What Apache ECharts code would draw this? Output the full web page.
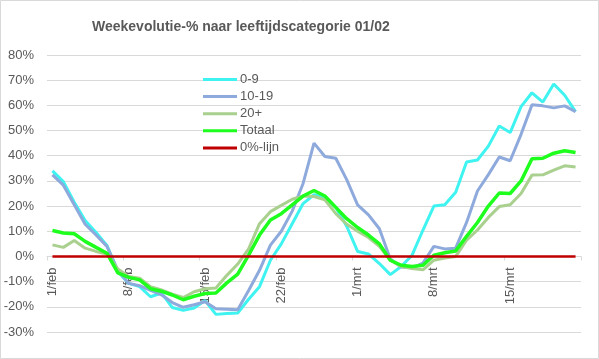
<!DOCTYPE html>
<html>
<head>
<meta charset="utf-8">
<script src="https://cdn.jsdelivr.net/npm/echarts@6/dist/echarts.min.js"></script>
<style>
html,body{margin:0;padding:0;background:#fff;}
#c{width:599px;height:359px;}
</style>
</head>
<body>
<div id="c"></div>
<script>
var categories = ['1/feb','2/feb','3/feb','4/feb','5/feb','6/feb','7/feb','8/feb','9/feb','10/feb','11/feb','12/feb','13/feb','14/feb','15/feb','16/feb','17/feb','18/feb','19/feb','20/feb','21/feb','22/feb','23/feb','24/feb','25/feb','26/feb','27/feb','28/feb','1/mrt','2/mrt','3/mrt','4/mrt','5/mrt','6/mrt','7/mrt','8/mrt','9/mrt','10/mrt','11/mrt','12/mrt','13/mrt','14/mrt','15/mrt','16/mrt','17/mrt','18/mrt','19/mrt','20/mrt','21/mrt'];

var age0_9 = [34, 29.7, 21.5, 14.3, 9.5, 4.4, -6, -10.7, -12, -16, -14.5, -20.3, -21.4, -20.5, -17.5, -23, -22.7, -22.5, -17, -12, -1.5, 5, 13, 21, 24.5, 23.5, 19.5, 12, 2, 1, -2.8, -7.2, -4, 0.5, 10.5, 20, 20.5, 25.5, 37.5, 38.3, 43.8, 51.8, 49.2, 59.5, 65, 61.3, 68.5, 64, 57.5];

var age10_19 = [32.4, 28.3, 20.5, 12.8, 8.5, 4, -5.5, -10.7, -11.6, -13.5, -15.2, -18.3, -20.2, -19.2, -18, -20.8, -21, -21.2, -13.5, -5.5, 4.5, 10, 18, 29, 45, 39.7, 39, 30.5, 20.5, 16.5, 11, -1, -4.2, -4.5, -2.6, 4, 3, 3.3, 13.5, 26, 32.5, 39.5, 38, 48.5, 60.2, 59.8, 59, 59.8, 57.5];

var age20plus = [4.6, 3.6, 6.3, 3.3, 2, 1, -5, -8, -8.6, -12, -13.3, -15, -16.3, -14, -12.8, -12.5, -7.5, -3, 3, 13, 17.8, 20.3, 22.7, 24, 23.8, 22.5, 17, 12.8, 10, 7.5, 4, -1.5, -4, -4.8, -5.3, -1.5, -0.6, 0, 6.5, 10.5, 15.5, 19.8, 20.5, 25, 32.3, 32.4, 34.3, 36, 35.5];

var totaal = [10.3, 9.3, 9.0, 6.0, 3.6, 1.3, -6.5, -8.3, -9.3, -12.8, -13.8, -15.3, -17.2, -15.8, -14.7, -14.5, -10.5, -7, 0.5, 8.5, 14.5, 17, 20.5, 24, 26.2, 24, 19.5, 15, 11.5, 8.5, 5, -1.5, -3.5, -4, -3.5, 0.5, 1.5, 2.2, 8, 13.5, 20, 25.2, 25, 30, 38.8, 39, 41, 42, 41.3];

var nulLijn = categories.map(function(){ return 0; });

var seriesNames = ['0-9', '10-19', '20+', 'Totaal', '0%-lijn'];
var seriesData = [age0_9, age10_19, age20plus, totaal, nulLijn];
var seriesColors = ['#3FF3F0', '#8EA9DB', '#A9D08E', '#1EFF1E', '#C00000'];
var seriesWidths = [3, 3, 3, 3.5, 2.5];

var yMin = -30, yMax = 80, yStep = 10;
var titleText = 'Weekevolutie-% naar leeftijdscategorie 01/02';

var gridTop = 55, gridBottom = 27;
var plotH = 359 - gridTop - gridBottom;
var zeroOffset = -plotH * (0 - yMin) / (yMax - yMin);

var FONT = '"Liberation Sans", Arial, sans-serif';
var chart = echarts.init(document.getElementById('c'), null, {renderer: 'canvas'});
chart.setOption({
  animation: false,
  backgroundColor: '#ffffff',
  title: {
    text: titleText,
    left: 87, top: 15,
    textStyle: {fontFamily: FONT, fontSize: 14, fontWeight: 'bold', color: '#595959'}
  },
  legend: {
    orient: 'vertical',
    left: 198, top: 68,
    icon: 'rect',
    itemWidth: 34, itemHeight: 3, itemGap: 4.1,
    data: seriesNames,
    textStyle: {fontFamily: FONT, fontSize: 13, color: '#595959', padding: [0,0,0,-2]}
  },
  grid: {left: 47, right: 18, top: gridTop, bottom: gridBottom, outerBoundsMode: 'none', containLabel: false},
  xAxis: {
    type: 'category',
    data: categories,
    boundaryGap: true,
    position: 'bottom',
    offset: zeroOffset,
    axisLine: {show: true, onZero: false, lineStyle: {color: '#D9D9D9', width: 1}},
    axisTick: {show: true, interval: 6, length: 4, lineStyle: {color: '#D9D9D9'}},
    axisLabel: {interval: 6, rotate: 90, margin: 11, fontFamily: FONT, fontSize: 13, color: '#595959'},
    splitLine: {show: false}
  },
  yAxis: {
    type: 'value',
    min: yMin, max: yMax, interval: yStep,
    axisLine: {show: false},
    axisTick: {show: false},
    axisLabel: {formatter: '{value}%', margin: 13, fontFamily: FONT, fontSize: 13, color: '#595959'},
    splitLine: {lineStyle: {color: '#D9D9D9', width: 1}}
  },
  graphic: [{
    type: 'rect', silent: true, z: 100,
    shape: {x: 0.5, y: 0.5, width: 598, height: 358},
    style: {fill: 'none', stroke: '#D9D9D9', lineWidth: 1}
  }],
  series: seriesNames.map(function(name, i){
    return {
      name: name, type: 'line', data: seriesData[i],
      symbol: 'none', smooth: false, z: 2 + i,
      lineStyle: {color: seriesColors[i], width: seriesWidths[i]},
      itemStyle: {color: seriesColors[i]}
    };
  })
});
</script>
</body>
</html>
